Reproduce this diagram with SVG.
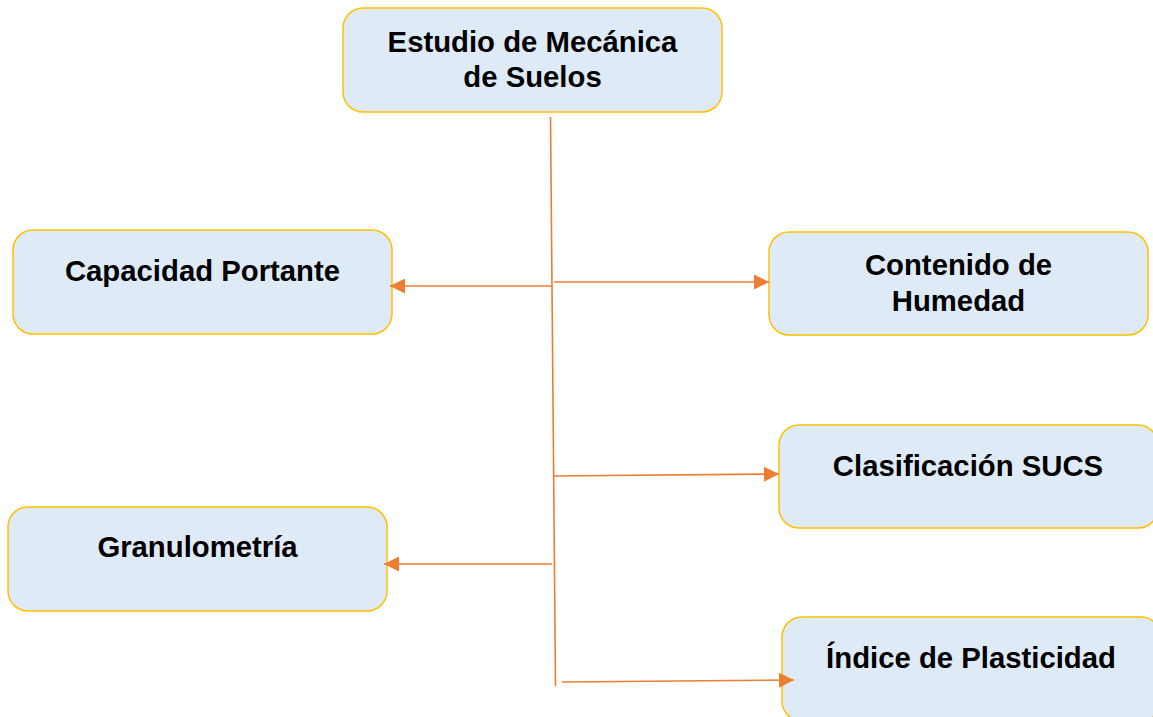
<svg xmlns="http://www.w3.org/2000/svg" width="1153" height="717" viewBox="0 0 1153 717">
<style>
.box{fill:#DEEAF6;stroke:#FFC000;stroke-width:1.5}
.t{font-family:"Liberation Sans",Arial,sans-serif;font-weight:bold;font-size:29.3px;fill:#000;text-anchor:middle}
.c{stroke:#ED7D31;stroke-width:1.6;fill:none}
</style>
<defs>
<marker id="ah" viewBox="0 0 10 10" refX="10" refY="5" markerUnits="userSpaceOnUse" markerWidth="16" markerHeight="15" orient="auto">
<path d="M0,0 L10,5 L0,10 Z" fill="#ED7D31"/>
</marker>
</defs>
<rect width="1153" height="717" fill="#fff"/>
<g id="n-estudio">
<rect class="box" x="343" y="8" width="379" height="104" rx="20"/>
<text class="t" x="532.5" y="52">Estudio de Mecánica</text>
<text class="t" x="532.5" y="87">de Suelos</text>
</g>
<g id="n-capacidad">
<rect class="box" x="13" y="230" width="379" height="104" rx="20"/>
<text class="t" x="202.5" y="281">Capacidad Portante</text>
</g>
<g id="n-contenido">
<rect class="box" x="769" y="232" width="379" height="103" rx="20"/>
<text class="t" x="958.5" y="275">Contenido de</text>
<text class="t" x="958.5" y="311">Humedad</text>
</g>
<g id="n-clasificacion">
<rect class="box" x="779" y="425" width="379" height="103" rx="20"/>
<text class="t" x="968" y="476">Clasificación SUCS</text>
</g>
<g id="n-granulometria">
<rect class="box" x="8" y="507" width="379" height="104" rx="20"/>
<text class="t" x="197.5" y="557">Granulometría</text>
</g>
<g id="n-indice">
<rect class="box" x="782" y="617" width="379" height="104" rx="20"/>
<text class="t" x="971" y="668">Índice de Plasticidad</text>
</g>
<g id="connectors">
<line class="c" x1="550.5" y1="117" x2="555.5" y2="686"/>
<line class="c" x1="552" y1="286" x2="390" y2="286" marker-end="url(#ah)"/>
<line class="c" x1="554" y1="282" x2="769" y2="282" marker-end="url(#ah)"/>
<line class="c" x1="553" y1="476" x2="779" y2="474" marker-end="url(#ah)"/>
<line class="c" x1="552" y1="564" x2="384" y2="564" marker-end="url(#ah)"/>
<line class="c" x1="562" y1="682" x2="794" y2="680" marker-end="url(#ah)"/>
</g>
</svg>
